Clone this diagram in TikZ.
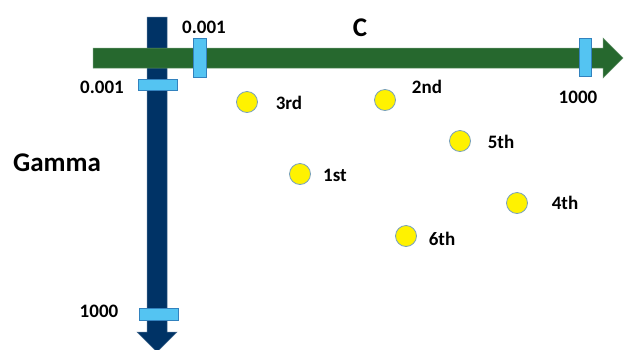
\documentclass[tikz,border=0pt]{standalone}
\usepackage{fontspec}
\setmainfont{Carlito}
\definecolor{axgreen}{RGB}{38,104,46}
\definecolor{axnavy}{RGB}{0,51,102}
\definecolor{tickfill}{RGB}{84,196,242}
\definecolor{tickdraw}{RGB}{50,130,190}
\definecolor{dotdraw}{RGB}{120,160,190}
\tikzset{
  tickbox/.style={draw=tickdraw, fill=tickfill, line width=0.8pt},
  dot/.style={circle, draw=dotdraw, fill=yellow, line width=0.8pt, minimum size=21pt, inner sep=0pt},
  lbl/.style={font=\bfseries\fontsize{19}{21}\selectfont, inner sep=0pt},
  big/.style={font=\bfseries\fontsize{27}{29}\selectfont, inner sep=0pt},
}
\begin{document}
\begin{tikzpicture}[x=1pt,y=-1pt]
\useasboundingbox (0,0) rectangle (624,349);
% vertical (gamma) arrow
\fill[axnavy, draw=axnavy!70!white, line width=0.5pt] (147,17) -- (167,17) -- (167,332) -- (177,332) -- (157,352) -- (137,332) -- (147,332) -- cycle;
% horizontal (C) arrow
\fill[axgreen, draw=axgreen!70!white, line width=0.5pt] (93,48) -- (603,48) -- (603,38) -- (623,58) -- (603,78) -- (603,68) -- (93,68) -- cycle;
% ticks
\draw[tickbox] (193,38) rectangle (206,77);
\draw[tickbox] (579,38) rectangle (591,76);
\draw[tickbox] (138,79) rectangle (177,90);
\draw[tickbox] (139,308) rectangle (178,320);
% axis labels
\node[lbl] (cmin) at (204,27) {0.001};
\node[lbl] (cmax) at (578,97) {1000};
\node[lbl] (gmin) at (102,87) {0.001};
\node[lbl] (gmax) at (99,311) {1000};
\node[big] (cname) at (360,28) {C};
\node[big] (gname) at (57,163) {Gamma};
% points
\node[dot] (p3) at (247,102) {};
\node[lbl] (l3) at (289,103) {3rd};
\node[dot] (p2) at (385,100) {};
\node[lbl] (l2) at (427,87) {2nd};
\node[dot] (p5) at (460,141) {};
\node[lbl] (l5) at (501,142) {5th};
\node[dot] (p1) at (300,174) {};
\node[lbl] (l1) at (335,175) {1st};
\node[dot] (p4) at (517,203) {};
\node[lbl] (l4) at (565,203) {4th};
\node[dot] (p6) at (406,236) {};
\node[lbl] (l6) at (442,239) {6th};
\end{tikzpicture}
\end{document}
